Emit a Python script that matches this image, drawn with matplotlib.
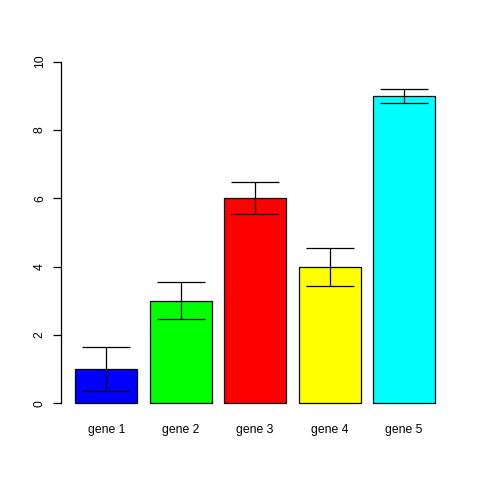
import numpy as np
import matplotlib
matplotlib.use('Agg')
import matplotlib.pyplot as plt

plt.rcParams['font.family'] = ['Liberation Sans', 'DejaVu Sans']

# data
genes = ['gene 1', 'gene 2', 'gene 3', 'gene 4', 'gene 5']
means = [1, 3, 6, 4, 9]
errs = [0.65, 0.54, 0.47, 0.56, 0.2]
colors = ['#0000ff', '#00ff00', '#ff0000', '#ffff00', '#00ffff']
yticks = [0, 2, 4, 6, 8, 10]

# R barplot style positions: width 1, space 0.2
x = np.arange(len(genes)) * 1.2 + 0.7

fig = plt.figure(figsize=(4.8, 4.8), dpi=100)
ax = fig.add_axes([60.9 / 480, 1 - 417 / 480, 388.4 / 480, 369 / 480])

ax.bar(x, means, width=1.0, color=colors, edgecolor='k', linewidth=0.9)
ax.errorbar(x, means, yerr=errs, fmt='none', ecolor='k', elinewidth=0.9,
            capsize=17.3, capthick=0.9)

ax.set_xlim(-0.032, 6.232)
ax.set_ylim(-0.4, 10.4)

for s in ['top', 'right', 'bottom']:
    ax.spines[s].set_visible(False)
ax.spines['left'].set_bounds(0, 10)
ax.spines['left'].set_linewidth(0.9)

ax.set_yticks(yticks)
ax.set_yticklabels([str(t) for t in yticks], rotation=90, va='center', fontsize=8.8)
ax.tick_params(axis='y', length=5.8, width=0.9, pad=5)

ax.set_xticks(x)
ax.set_xticklabels(genes, fontsize=8.8)
ax.tick_params(axis='x', length=0, pad=4.8)

fig.savefig('out.png', dpi=100)
